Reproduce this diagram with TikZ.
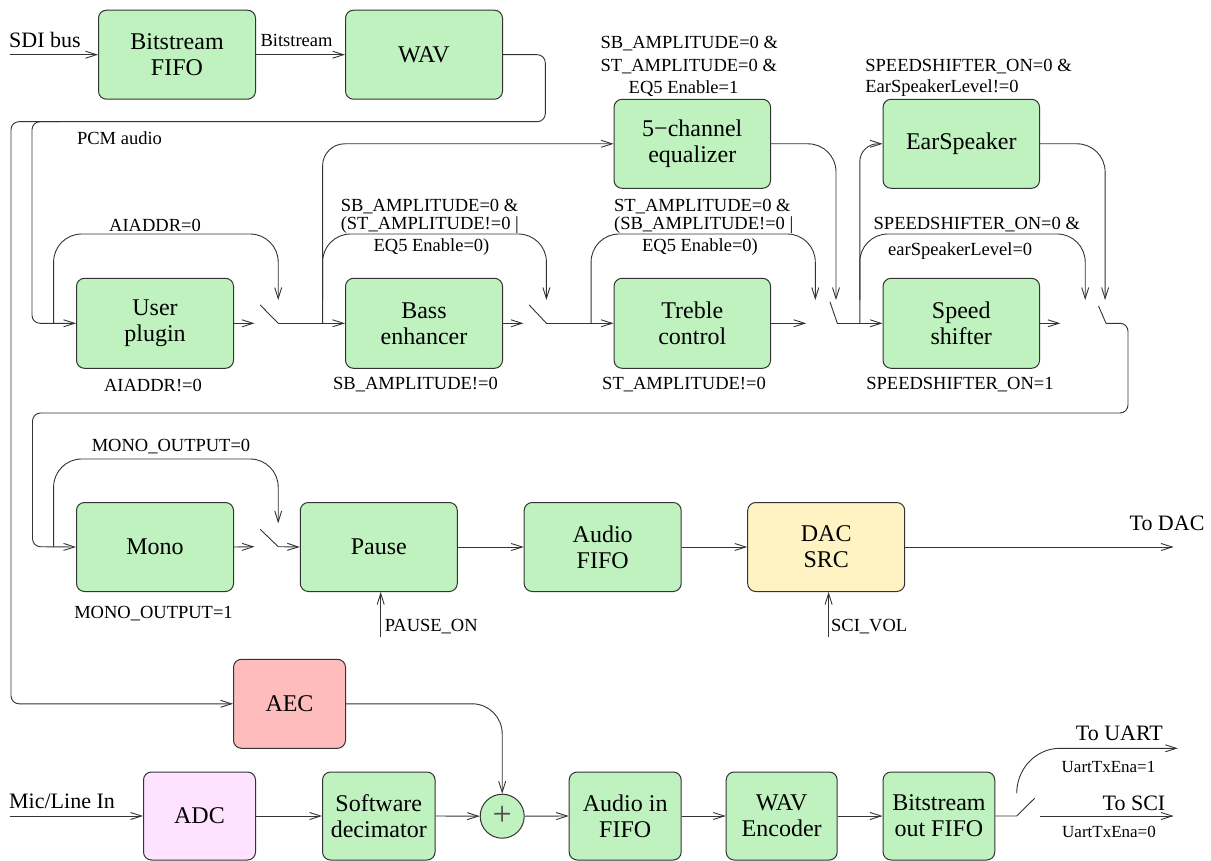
\documentclass[tikz,border=0pt]{standalone}
\usepackage{fontspec}
\setmainfont{Liberation Serif}
\usetikzlibrary{arrows.meta}
\definecolor{gbox}{RGB}{192,242,192}
\definecolor{ybox}{RGB}{255,243,196}
\definecolor{rbox}{RGB}{255,188,188}
\definecolor{pbox}{RGB}{255,226,255}
\begin{document}
\begin{tikzpicture}[x=1pt,y=-1pt,
  box/.style={draw=black!80, line width=1pt, rounded corners=8pt, fill=gbox, align=center, inner sep=0pt, font=\fontsize{24}{26}\selectfont, minimum height=89pt},
  arr/.style={-{Straight Barb[length=11pt,width=7pt]}},
  wire/.style={line width=0.9pt, draw=black!80},
  cond/.style={inner sep=0pt, font=\fontsize{18.5}{20}\selectfont},
  io/.style={inner sep=0pt, font=\fontsize{22}{24}\selectfont},
  mid/.style={inner sep=0pt, font=\fontsize{18.5}{20}\selectfont},
  uart/.style={inner sep=0pt, font=\fontsize{17}{19}\selectfont},
]
\useasboundingbox (0,0) rectangle (1211,861);

% ---- boxes ----
\node[box, minimum width=157pt] (bfifo) at (177,54.7) {Bitstream\\FIFO};
\node[box, minimum width=157pt] (wav) at (424,54.7) {WAV};
\node[box, minimum width=156.5pt] (eq) at (692.3,143.8) {5−channel\\equalizer};
\node[box, minimum width=156.5pt] (ear) at (961.3,143.8) {EarSpeaker};
\node[box, minimum width=157pt, minimum height=90pt] (user) at (155,323.3) {User\\plugin};
\node[box, minimum width=157pt, minimum height=90pt] (bass) at (424,323.3) {Bass\\enhancer};
\node[box, minimum width=156.5pt, minimum height=90pt] (treble) at (692.3,323.3) {Treble\\control};
\node[box, minimum width=156.5pt, minimum height=90pt] (speed) at (961.3,323.3) {Speed\\shifter};
\node[box, minimum width=157pt] (mono) at (155,547) {Mono};
\node[box, minimum width=157pt] (pause) at (378.8,547) {Pause};
\node[box, minimum width=157pt] (afifo) at (602.7,547) {Audio\\FIFO};
\node[box, minimum width=157pt, fill=ybox] (dac) at (826.2,547) {DAC\\SRC};
\node[box, minimum width=112pt, fill=rbox] (aec) at (289.5,703.8) {AEC};
\node[box, minimum width=112pt, minimum height=88pt, fill=pbox] (adc) at (199.5,816) {ADC};
\node[box, minimum width=112.5pt, minimum height=88pt] (dec) at (378.8,816) {Software\\decimator};
\node[circle, draw=black!80, line width=1pt, fill=gbox, minimum size=44pt, inner sep=0pt, text=black!70, font=\fontsize{34}{34}\selectfont] (sum) at (502.2,816.2) {+};
\node[box, minimum width=112pt, minimum height=88pt] (ainfifo) at (625.2,816) {Audio in\\FIFO};
\node[box, minimum width=111pt, minimum height=88pt] (wenc) at (781.7,816) {WAV\\Encoder};
\node[box, minimum width=111.7pt, minimum height=88pt] (bofifo) at (938.9,816) {Bitstream\\out FIFO};

% ---- named free points ----
\coordinate (sdiin) at (9.6,54.7);
\coordinate (micin) at (9.6,816);
\coordinate (todac) at (1173.6,547);
\coordinate (pon) at (380.7,637);
\coordinate (svol) at (828.6,637);

% switches
\coordinate (s1a) at (260.2,305);   \coordinate (s1b) at (278.2,323.3);
\coordinate (s2a) at (529.2,305);   \coordinate (s2b) at (546.4,323.3);
\coordinate (s3a) at (829.9,301.7); \coordinate (s3b) at (837.3,323.3);
\coordinate (s4a) at (1098.5,306);  \coordinate (s4b) at (1106,323.3);
\coordinate (s5a) at (260.2,529.3); \coordinate (s5b) at (278.2,546.7);
\coordinate (s6a) at (1016.7,816);  \coordinate (s6b) at (1034.6,798.3);
\coordinate (uartin) at (1016.7,793.3);
\coordinate (uartout) at (1177.8,748.3);
\coordinate (sciin) at (1039.5,816);
\coordinate (sciout) at (1173.6,816);

% ---- top row ----
\draw[wire,arr] (sdiin) -- (bfifo.west);
\node[io] at (45,40) {SDI bus};
\draw[wire,arr] (bfifo.east) -- (wav.west);
\node[mid] at (296.5,40) {Bitstream};
\draw[wire,arr,rounded corners=8pt] (wav.east) -- (545.3,54.7) -- (545.3,121.7) -- (32,121.7) -- (32,323.3) -- (user.west);
\draw[wire,arr,rounded corners=8pt] (60,121.7) -- (11,121.7) -- (11,703.8) -- (aec.west);
\node[mid] at (119.5,138) {PCM audio};

% ---- second row ----
\draw[wire,arr,rounded corners=28pt] (53.6,323.3) -- (53.6,234) -- (278.2,234) -- (278.2,300);
\node[cond] at (155,225) {AIADDR=0};
\draw[wire,arr] (user.east) -- (254.5,323.3);
\draw[wire] (s1a) -- (s1b);
\draw[wire,arr] (s1b) -- (bass.west);
\draw[wire,arr,rounded corners=22pt] (322.6,323.3) -- (322.6,143.8) -- (eq.west);
\draw[wire,arr,rounded corners=28pt] (322.6,300) -- (322.6,234) -- (546.4,234) -- (546.4,300);
\node[cond,anchor=west] at (340.6,206.7) {SB\_AMPLITUDE=0 \&};
\node[cond,anchor=west] at (340.6,225) {(ST\_AMPLITUDE!=0 |};
\node[cond] at (431.5,247) {EQ5 Enable=0)};
\draw[wire,arr] (bass.east) -- (523.5,323.3);
\draw[wire] (s2a) -- (s2b);
\draw[wire,arr] (s2b) -- (treble.west);

\node[cond,anchor=west] at (600.3,43.3) {SB\_AMPLITUDE=0 \&};
\node[cond,anchor=west] at (600.3,66.7) {ST\_AMPLITUDE=0 \&};
\node[cond] at (683.5,88.3) {EQ5 Enable=1};

\draw[wire,arr,rounded corners=28pt] (591.1,323.3) -- (591.1,234) -- (815.3,234) -- (815.3,300);
\node[cond,anchor=west] at (614,206.7) {ST\_AMPLITUDE=0 \&};
\node[cond,anchor=west] at (614,225) {(SB\_AMPLITUDE!=0 |};
\node[cond] at (700,247.3) {EQ5 Enable=0)};
\draw[wire,arr,rounded corners=28pt] (eq.east) -- (836,143.8) -- (836,300);
\draw[wire,arr] (treble.east) -- (806.2,323.3);
\draw[wire] (s3a) -- (s3b);
\draw[wire,arr] (s3b) -- (speed.west);

\draw[wire,arr,rounded corners=18pt] (859.8,323.3) -- (859.8,143.8) -- (ear.west);
\node[cond,anchor=west] at (865.2,66.7) {SPEEDSHIFTER\_ON=0 \&};
\node[cond,anchor=west] at (865.2,88.3) {EarSpeakerLevel!=0};
\draw[wire,arr,rounded corners=28pt] (859.8,300) -- (859.8,234) -- (1085.2,234) -- (1085.2,300);
\node[cond,anchor=west] at (873.5,224.3) {SPEEDSHIFTER\_ON=0 \&};
\node[cond,anchor=west] at (888,250.7) {earSpeakerLevel=0};
\draw[wire,arr,rounded corners=28pt] (ear.east) -- (1105.1,143.8) -- (1105.1,300);
\draw[wire,arr] (speed.east) -- (1060.3,323.3);
\draw[wire] (s4a) -- (s4b);
\draw[wire,arr,rounded corners=8pt] (s4b) -- (1128,323.3) -- (1128,413) -- (32.5,413) -- (32.5,546.7) -- (mono.west);

\node[cond] at (153,385) {AIADDR!=0};
\node[cond] at (415.5,385) {SB\_AMPLITUDE!=0};
\node[cond] at (684,385) {ST\_AMPLITUDE!=0};
\node[cond] at (960,385) {SPEEDSHIFTER\_ON=1};

% ---- third row ----
\draw[wire,arr,rounded corners=28pt] (53.6,546.7) -- (53.6,459) -- (278.2,459) -- (278.2,523.3);
\node[cond] at (171,446.7) {MONO\_OUTPUT=0};
\draw[wire,arr] (mono.east) -- (254.5,546.7);
\draw[wire] (s5a) -- (s5b);
\draw[wire,arr] (s5b) -- (pause.west);
\node[cond] at (153.5,613.3) {MONO\_OUTPUT=1};
\draw[wire,arr] (pause.east) -- (afifo.west);
\draw[wire,arr] (afifo.east) -- (dac.west);
\draw[wire,arr] (dac.east) -- (todac);
\node[io] at (1167,523.3) {To DAC};
\draw[wire,arr] (pon) -- (pon |- pause.south);
\node[cond,anchor=west] at (384.6,626.7) {PAUSE\_ON};
\draw[wire,arr] (svol) -- (svol |- dac.south);
\node[cond,anchor=west] at (831,626.7) {SCI\_VOL};

% ---- bottom ----
\draw[wire,arr,rounded corners=30pt] (aec.east) -- (502.2,703.8) -- (sum.north);
\draw[wire,arr] (micin) -- (adc.west);
\node[io] at (62,801.7) {Mic/Line In};
\draw[wire,arr] (adc.east) -- (dec.west);
\draw[wire,arr] (dec.east) -- (sum.west);
\draw[wire,arr] (sum.east) -- (ainfifo.west);
\draw[wire,arr] (ainfifo.east) -- (wenc.west);
\draw[wire,arr] (wenc.east) -- (bofifo.west);
\draw[wire] (bofifo.east) -- (s6a) -- (s6b);
\draw[wire,arr] (uartin) to[out=90,in=180] (1060,748.3) -- (uartout);
\node[io] at (1119.4,733.3) {To UART};
\node[uart] at (1108.5,766.7) {UartTxEna=1};
\draw[wire,arr] (sciin) -- (sciout);
\node[io] at (1134,803.3) {To SCI};
\node[uart] at (1109,832.3) {UartTxEna=0};
\end{tikzpicture}
\end{document}
